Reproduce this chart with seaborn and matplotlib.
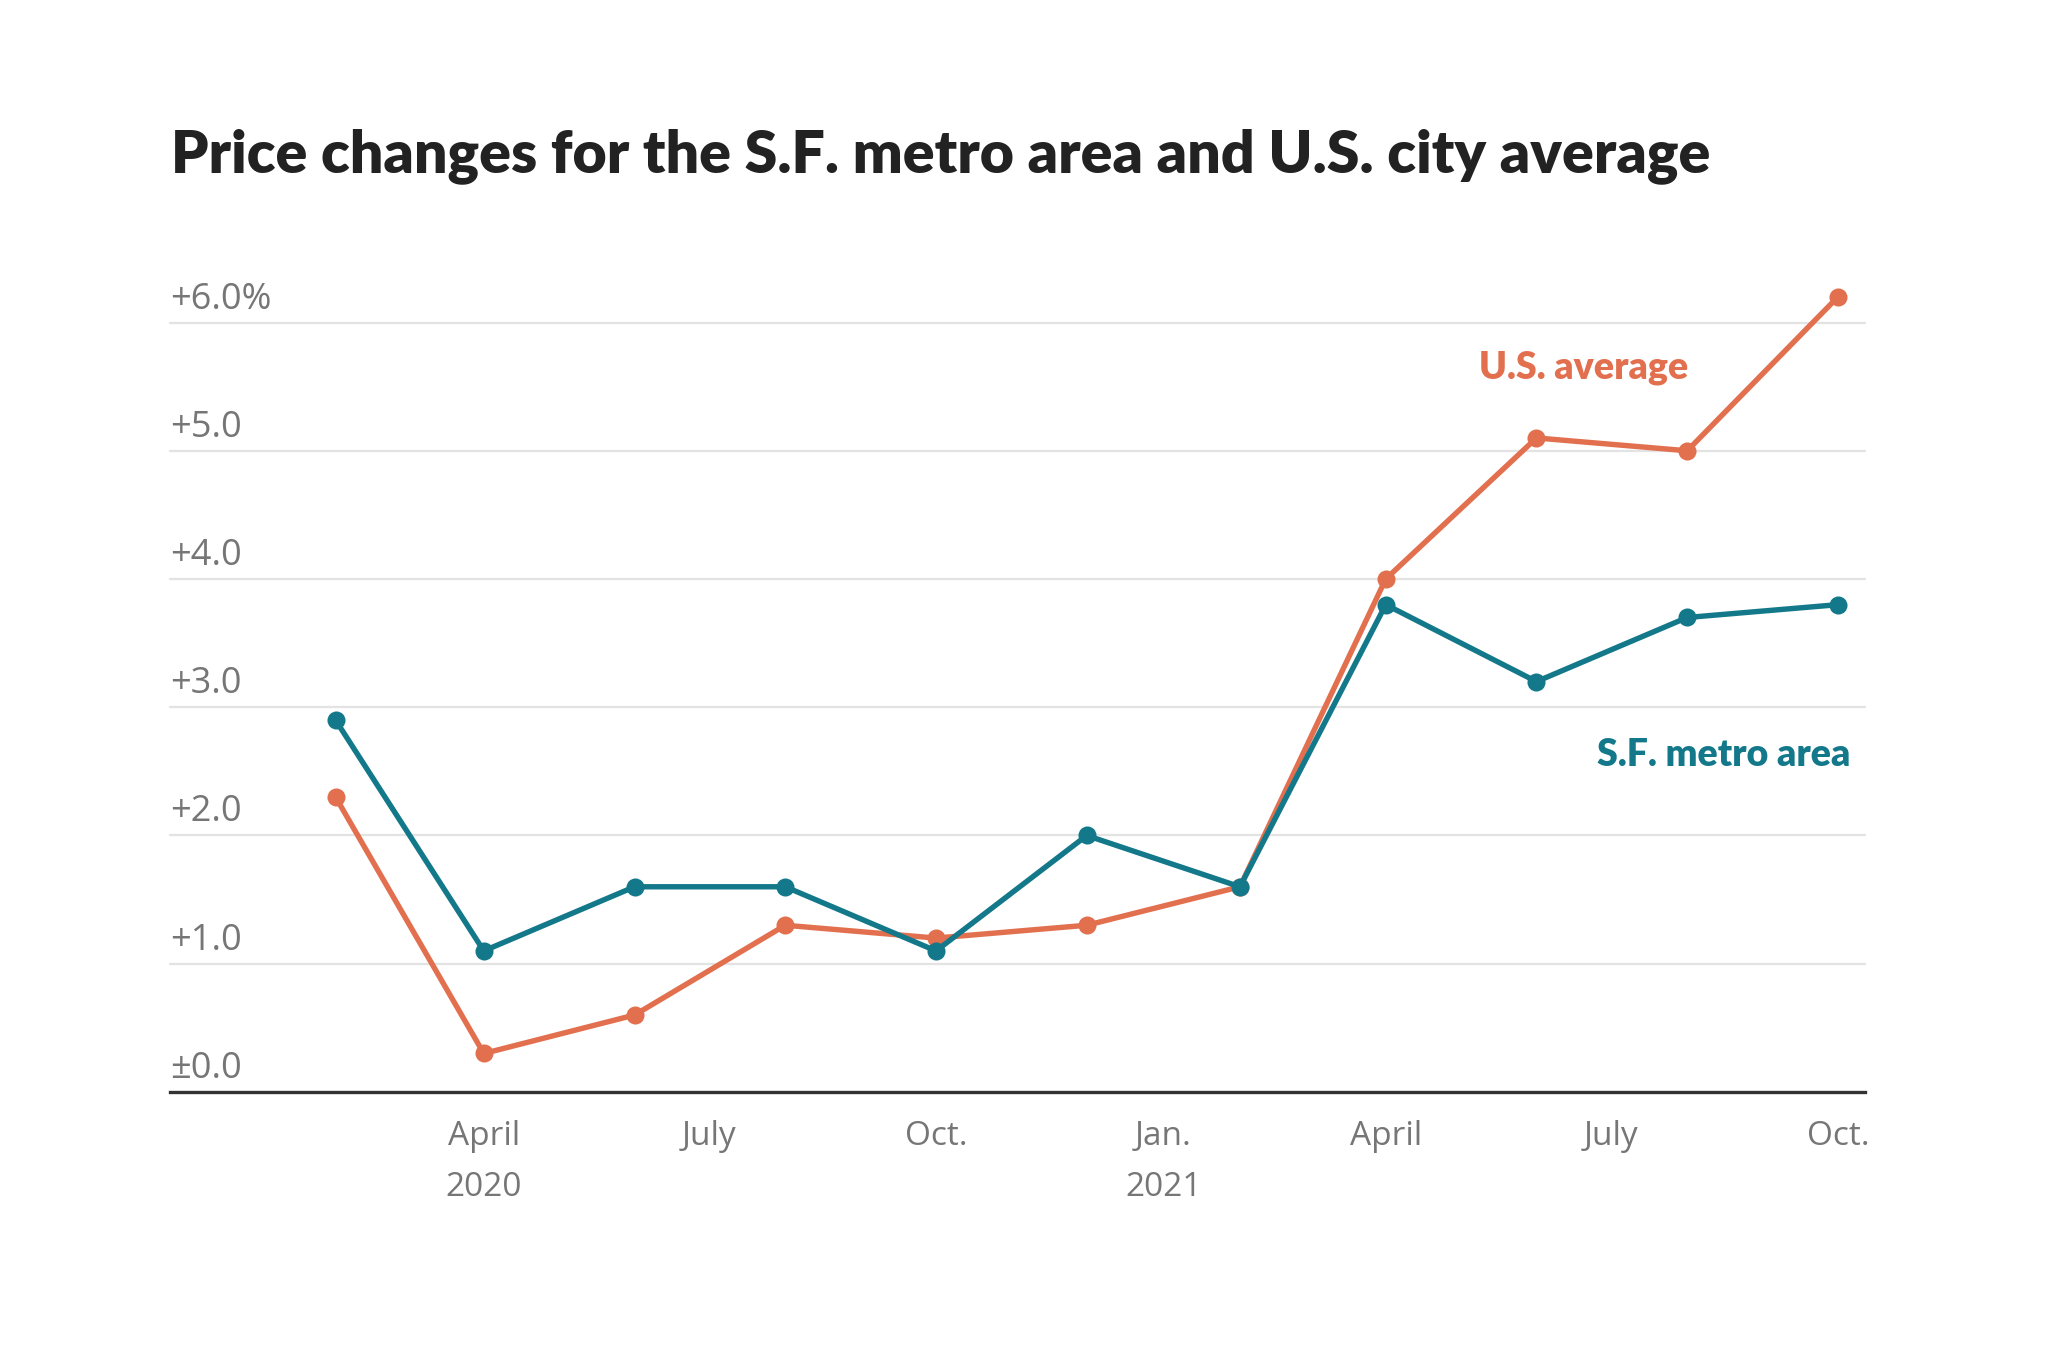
import matplotlib

matplotlib.use("Agg")

import matplotlib.pyplot as plt
import matplotlib.transforms as mtransforms
import pandas as pd
import seaborn as sns


# -------------------------------------------------
# Data (bi-monthly CPI change, percent)
# -------------------------------------------------

months = [
    "2020-02-01", "2020-04-01", "2020-06-01", "2020-08-01",
    "2020-10-01", "2020-12-01", "2021-02-01", "2021-04-01",
    "2021-06-01", "2021-08-01", "2021-10-01"
]

us_average = [2.3, 0.3, 0.6, 1.3, 1.2, 1.3, 1.6, 4.0, 5.1, 5.0, 6.2]

sf_metro = [2.9, 1.1, 1.6, 1.6, 1.1, 2.0, 1.6, 3.8, 3.2, 3.7, 3.8]

tick_dates = [
    "2020-04-01", "2020-07-01", "2020-10-01", "2021-01-01",
    "2021-04-01", "2021-07-01", "2021-10-01"
]

tick_labels = [
    "April\n2020", "July", "Oct.", "Jan.\n2021",
    "April", "July", "Oct."
]

y_ticks = [0, 1, 2, 3, 4, 5, 6]

y_labels = ["±0.0", "+1.0", "+2.0", "+3.0", "+4.0", "+5.0", "+6.0%"]


ORANGE = "#E2704F"
TEAL = "#13798A"
GRAY_TEXT = "#767676"
TICK_FONT = ["Open Sans", "DejaVu Sans"]

df = pd.DataFrame({
    "month": pd.to_datetime(months),
    "U.S. average": us_average,
    "S.F. metro area": sf_metro
})

long_df = df.melt(
    id_vars="month",
    var_name="series",
    value_name="change"
)


# -------------------------------------------------
# Figure
# -------------------------------------------------

sns.set_style("white")
plt.rcParams["font.family"] = ["Lato", "DejaVu Sans"]

fig = plt.figure(figsize=(20.48, 13.67), dpi=100)
ax = fig.add_axes([0.083, 0.2012, 0.8277, 0.591])

for y in y_ticks[1:]:
    ax.axhline(y, color="#e3e3e3", linewidth=1.6, zorder=0)

sns.lineplot(
    data=long_df,
    x="month",
    y="change",
    hue="series",
    palette={"U.S. average": ORANGE, "S.F. metro area": TEAL},
    hue_order=["U.S. average", "S.F. metro area"],
    marker="o",
    markersize=13,
    markeredgewidth=0,
    linewidth=3.9,
    legend=False,
    ax=ax,
    zorder=3
)

for line in ax.lines:
    line.set_clip_on(False)

ax.set_xlim(pd.Timestamp("2019-11-26"), pd.Timestamp("2021-10-12"))
ax.set_ylim(0, 6.3)

ax.set_xticks(pd.to_datetime(tick_dates))
ax.set_xticklabels(tick_labels, linespacing=1.75, family=TICK_FONT)
ax.tick_params(
    axis="x",
    length=0,
    pad=20,
    labelsize=24,
    labelcolor=GRAY_TEXT
)
ax.set_yticks([])

for label in ax.get_xticklabels():
    label.set_verticalalignment("top")

trans = mtransforms.blended_transform_factory(ax.transAxes, ax.transData)
offset = mtransforms.ScaledTranslation(0, 5 / 100, fig.dpi_scale_trans)

for value, text in zip(y_ticks, y_labels):
    ax.text(
        0,
        value,
        text,
        transform=trans + offset,
        ha="left",
        va="bottom",
        fontsize=26,
        family=TICK_FONT,
        color=GRAY_TEXT
    )

ax.set_xlabel("")
ax.set_ylabel("")

for side in ["top", "right", "left"]:
    ax.spines[side].set_visible(False)

ax.spines["bottom"].set_color("#333333")
ax.spines["bottom"].set_linewidth(2.4)

# Series labels
ax.text(
    pd.Timestamp("2021-06-20"),
    5.65,
    "U.S. average",
    color=ORANGE,
    fontsize=27,
    fontweight="heavy",
    ha="center",
    va="center"
)

ax.text(
    pd.Timestamp("2021-10-06"),
    2.63,
    "S.F. metro area",
    color=TEAL,
    fontsize=27,
    fontweight="heavy",
    ha="right",
    va="center"
)

fig.text(
    171 / 2048,
    1 - 156 / 1367,
    "Price changes for the S.F. metro area and U.S. city average",
    fontsize=42.5,
    fontweight="heavy",
    color="#222222",
    ha="left",
    va="center"
)

fig.savefig("out.png", dpi=100, facecolor="white")
plt.close(fig)
